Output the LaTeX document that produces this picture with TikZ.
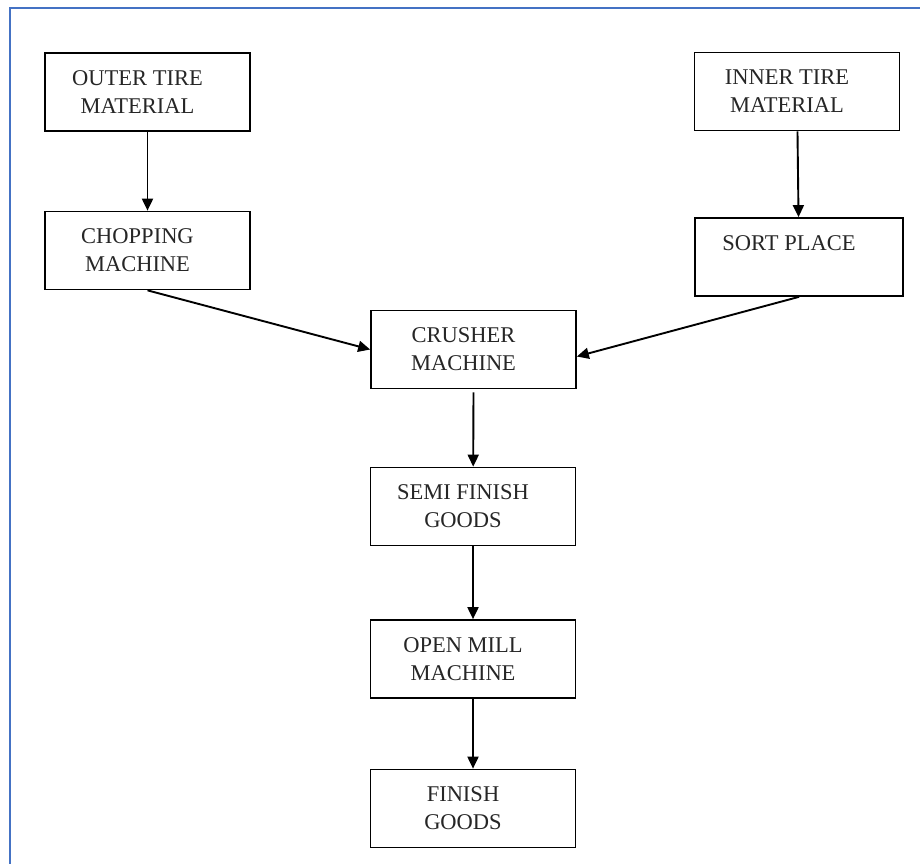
\documentclass[tikz,border=0pt]{standalone}
\usepackage{fontspec}
\setmainfont{Liberation Serif}
\usetikzlibrary{arrows.meta}

\definecolor{framecol}{RGB}{68,114,196}

\tikzset{
  procbox/.style={draw, line width=1.7pt, minimum width=205pt, minimum height=78pt},
  proctext/.style={align=center, xshift=-10pt, text=black!85,
                   font=\fontsize{22.5}{28}\selectfont},
  flow/.style={line width=1.9pt, -{Triangle[length=12pt,width=11pt]}}
}

\begin{document}
\begin{tikzpicture}[x=1pt, y=-1pt]
\useasboundingbox (0,0) rectangle (920,864);

% page frame
\draw[framecol, line width=2.5pt] (920,8) -- (10,8) -- (10,864);

% two inputs
\node[procbox, label={[proctext]center:{OUTER TIRE\\MATERIAL}}] (outer) at (147.5,92) {};
\node[procbox, label={[proctext]center:{CHOPPING\\MACHINE}}] (chop) at (147.5,250.5) {};
\node[procbox, label={[proctext]center:{INNER TIRE\\MATERIAL}}] (inner) at (797,91.5) {};
\node[procbox, minimum width=208pt, label={[proctext]center:{SORT PLACE\\~}}] (sort) at (799,257) {};

% main line
\node[procbox, label={[proctext]center:{CRUSHER\\MACHINE}}] (crusher) at (473.5,349.5) {};
\node[procbox, label={[proctext]center:{SEMI FINISH\\GOODS}}] (semi) at (473,506.5) {};
\node[procbox, label={[proctext]center:{OPEN MILL\\MACHINE}}] (mill) at (473,659) {};
\node[procbox, label={[proctext]center:{FINISH\\GOODS}}] (finish) at (473,808.5) {};

\draw[flow] (outer) -- (chop);
\draw[flow] (inner) -- (sort);
\draw[flow] (chop.south) -- (crusher.west);
\draw[flow] (sort.south) -- ([yshift=-7pt]crusher.east);
\draw[flow] ([yshift=-3pt]crusher.south) -- (semi);
\draw[flow] (semi) -- (mill);
\draw[flow] (mill) -- (finish);

\end{tikzpicture}
\end{document}
